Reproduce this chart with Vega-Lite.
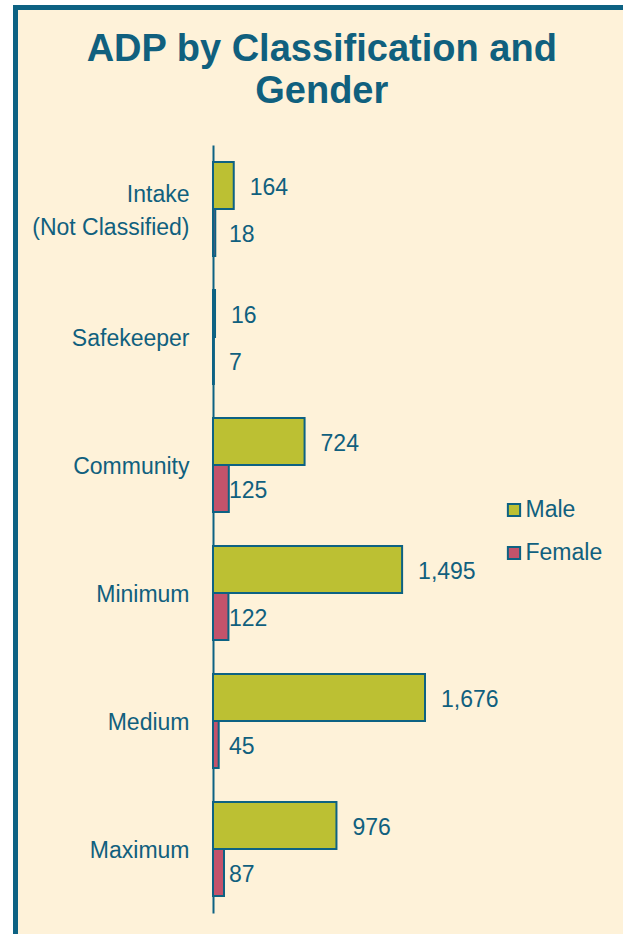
{
  "$schema": "https://vega.github.io/schema/vega-lite/v6.json",
  "autosize": {"type": "none"},
  "padding": {"left": 15.5, "top": 7.5, "right": -5, "bottom": -5},
  "width": 612.5,
  "height": 931.5,
  "background": "white",
  "config": {
    "font": "Liberation Sans",
    "view": {"fill": "#FEF2D9", "stroke": "#0D6283", "strokeWidth": 5}
  },
  "title": {
    "text": ["ADP by Classification and", "Gender"],
    "fontSize": 38,
    "fontWeight": "bold",
    "color": "#10607E",
    "lineHeight": 42,
    "anchor": "middle",
    "frame": "group",
    "baseline": "top",
    "offset": -103
  },
  "data": {
    "values": [
      {"category": "Intake|(Not Classified)", "gender": "Male", "value": 164},
      {"category": "Intake|(Not Classified)", "gender": "Female", "value": 18},
      {"category": "Safekeeper", "gender": "Male", "value": 16},
      {"category": "Safekeeper", "gender": "Female", "value": 7},
      {"category": "Community", "gender": "Male", "value": 724},
      {"category": "Community", "gender": "Female", "value": 125},
      {"category": "Minimum", "gender": "Male", "value": 1495},
      {"category": "Minimum", "gender": "Female", "value": 122},
      {"category": "Medium", "gender": "Male", "value": 1676},
      {"category": "Medium", "gender": "Female", "value": 45},
      {"category": "Maximum", "gender": "Male", "value": 976},
      {"category": "Maximum", "gender": "Female", "value": 87}
    ]
  },
  "encoding": {
    "y": {
      "field": "category",
      "type": "nominal",
      "sort": null,
      "scale": {"range": [137.5, 905.5], "paddingInner": 0.266, "paddingOuter": 0.133},
      "axis": {
        "title": null,
        "orient": "left",
        "offset": -197.5,
        "ticks": false,
        "grid": false,
        "domainColor": "#0D6283",
        "domainWidth": 2,
        "labelFontSize": 23,
        "labelColor": "#10607E",
        "labelPadding": 24,
        "labelLimit": 0,
        "labelLineHeight": 33,
        "labelOffset": {"condition": {"test": "indexof(datum.value, '|') >= 0", "value": -14.5}, "value": 1.5},
        "labelExpr": "split(datum.label, '|')"
      }
    },
    "yOffset": {
      "field": "gender",
      "type": "nominal",
      "sort": ["Male", "Female"],
      "scale": {"paddingInner": 0, "paddingOuter": 0}
    }
  },
  "layer": [
    {
      "mark": {"type": "bar", "stroke": "#0D6283", "strokeWidth": 2},
      "encoding": {
        "x": {
          "field": "value",
          "type": "quantitative",
          "scale": {"domain": [0, 1676], "range": [197.5, 409.5], "nice": false},
          "axis": null
        },
        "color": {
          "field": "gender",
          "type": "nominal",
          "sort": ["Male", "Female"],
          "scale": {"domain": ["Male", "Female"], "range": ["#BCC033", "#C3536B"]},
          "legend": {
            "title": null,
            "orient": "none",
            "legendX": 487,
            "legendY": 491,
            "padding": 0,
            "symbolType": "square",
            "symbolSize": 150,
            "symbolStrokeColor": "#0D6283",
            "symbolStrokeWidth": 2,
            "symbolOpacity": 1,
            "labelFontSize": 23,
            "labelColor": "#10607E",
            "labelOffset": 0,
            "rowPadding": 19
          }
        }
      }
    },
    {
      "transform": [{"filter": "datum.gender === 'Male'"}],
      "mark": {"type": "text", "align": "left", "baseline": "middle", "dx": 16, "dy": 2.5, "fontSize": 23, "color": "#10607E"},
      "encoding": {
        "x": {"field": "value", "type": "quantitative"},
        "text": {"field": "value", "type": "quantitative", "format": ","}
      }
    },
    {
      "transform": [{"filter": "datum.gender === 'Female'"}],
      "mark": {"type": "text", "align": "left", "baseline": "middle", "dx": 16, "dy": 2.5, "fontSize": 23, "color": "#10607E"},
      "encoding": {
        "x": {"datum": 0, "type": "quantitative"},
        "text": {"field": "value", "type": "quantitative", "format": ","}
      }
    }
  ]
}
